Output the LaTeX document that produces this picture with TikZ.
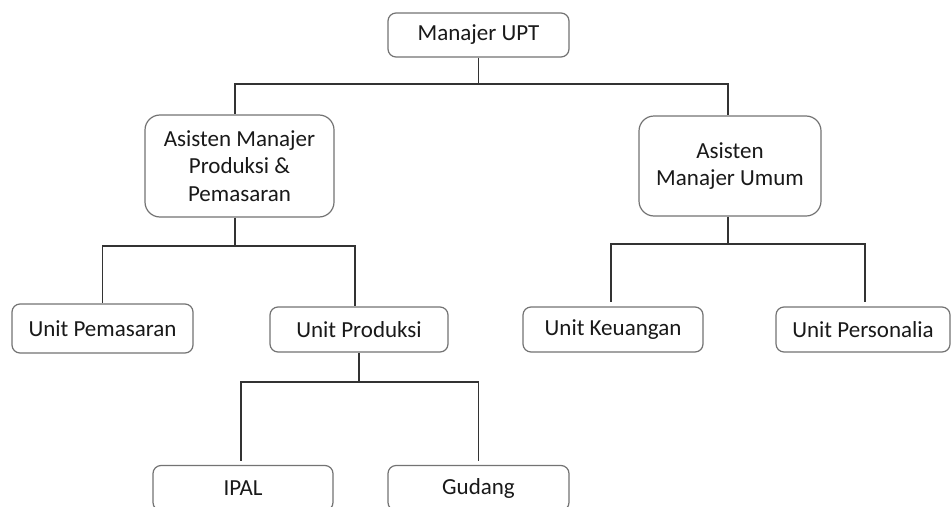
\documentclass[tikz,border=0pt]{standalone}
\usepackage{fontspec}
\setmainfont{Carlito}
\begin{document}
\begin{tikzpicture}[x=1pt,y=-1pt,
  box/.style={draw=black!55, line width=1.2pt, rounded corners=8pt, fill=white,
    text=black!90, font=\fontsize{23}{27.5}\selectfont, align=center,
    inner sep=0pt, minimum width=#1},
  box/.default=180pt,
  conn/.style={draw=black!80, line width=1.3pt}]
\useasboundingbox (0,0) rectangle (952,506);
% nodes
\node[box=181pt, minimum height=44pt] (upt) at (478.5,35) {Manajer UPT};
\node[box=189pt, minimum height=102pt, rounded corners=15pt] (amp) at (239.5,166) {Asisten Manajer\\Produksi \&\\Pemasaran};
\node[box=182pt, minimum height=100pt, rounded corners=15pt] (amu) at (730,166) {Asisten\\Manajer Umum};
\node[box=181pt, minimum height=49pt] (pem) at (102.5,328.5) {Unit Pemasaran};
\node[box=178pt, minimum height=45pt] (pro) at (359,329.5) {Unit Produksi};
\node[box=180pt, minimum height=45pt] (keu) at (613,329.5) {Unit Keuangan};
\node[box=174pt, minimum height=45pt] (per) at (863,329.5) {Unit Personalia};
\node[box=180pt, minimum height=45pt] (ipal) at (243,488) {IPAL};
\node[box=181pt, minimum height=45pt] (gud) at (478.5,488) {Gudang};
% junctions
\coordinate (j1) at (478.5,84);
\coordinate (j2) at (235,246);
\coordinate (j3) at (728,244);
\coordinate (j4) at (359,382);
% connectors
\draw[conn] (upt.south) -- (j1);
\draw[conn] (j1) -| ([xshift=-4.5pt]amp.north);
\draw[conn] (j1) -| ([xshift=-2pt]amu.north);
\draw[conn] ([xshift=-4.5pt]amp.south) -- (j2);
\draw[conn] (j2) -| (pem.north);
\draw[conn] (j2) -| ([xshift=-4pt]pro.north);
\draw[conn] ([xshift=-2pt]amu.south) -- (j3);
\draw[conn] (j3) -| ([xshift=-2pt,yshift=4pt]keu.north);
\draw[conn] (j3) -| ([xshift=2pt,yshift=4pt]per.north);
\draw[conn] (pro.south) -- (j4);
\draw[conn] (j4) -| ([xshift=-2pt,yshift=4pt]ipal.north);
\draw[conn] (j4) -| ([yshift=4pt]gud.north);
\end{tikzpicture}
\end{document}
